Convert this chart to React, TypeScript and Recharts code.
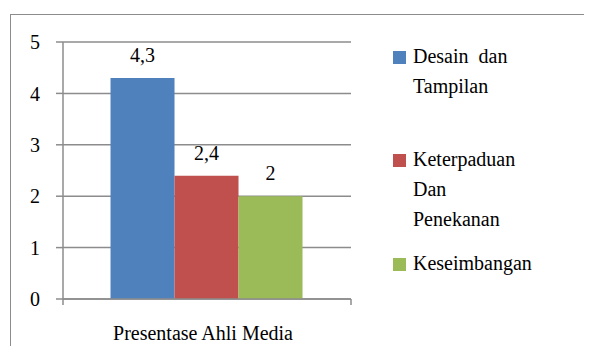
import React from 'react';
import {
  BarChart, Bar, XAxis, YAxis, CartesianGrid, LabelList,
} from 'recharts';

const categories = ['Presentase Ahli Media'];
const seriesKeys = ['desain', 'keterpaduan', 'keseimbangan'];
const seriesNames = ['Desain  dan\nTampilan', 'Keterpaduan\nDan\nPenekanan', 'Keseimbangan'];
const seriesValues = [4.3, 2.4, 2];
const seriesColors = ['#4F81BD', '#C0504D', '#9BBB59'];
const yTicks = [0, 1, 2, 3, 4, 5];

const data = categories.map((name) => {
  const row: any = { name };
  seriesKeys.forEach((k, i) => { row[k] = seriesValues[i]; });
  return row;
});

const font = 'serif';
const gray = '#8c8c8c';

// legend block tops, Excel spreads the items unevenly
const legendTops = [41, 144, 248];

const formatComma = (v: number) => String(v).replace('.', ',');

const CategoryTick = ({ x, y, payload }: any) => {
  const half = payload && payload.offset ? payload.offset : 0;
  return (
    <g>
      <line x1={x - half} x2={x - half} y1={y} y2={y + 6} stroke={gray} strokeWidth={1.5} />
      <line x1={x + half} x2={x + half} y1={y} y2={y + 6} stroke={gray} strokeWidth={1.5} />
      <text x={x - 4} y={y + 41} textAnchor="middle" fontSize={20} fontFamily={font} fill="#000">
        {payload.value}
      </text>
    </g>
  );
};

const LegendBox = () => {
  return (
    <>
      {seriesNames.map((name, i) => {
        return (
          <div
            key={name}
            style={{
              position: 'absolute', left: 393, top: legendTops[i], width: 190,
            }}
          >
            <div
              style={{
                position: 'absolute', left: 0, top: 10, width: 13, height: 13, background: seriesColors[i],
              }}
            />
            <div
              style={{
                marginLeft: 20, fontFamily: font, fontSize: 20, lineHeight: '30px', color: '#000', whiteSpace: 'pre',
              }}
            >
              {name}
            </div>
          </div>
        );
      })}
    </>
  );
};

const App = () => {
  return (
    <div style={{
      position: 'relative', margin: -8, width: 592, height: 354, background: '#fff', overflow: 'hidden', fontFamily: font,
    }}
    >
      <div style={{
        position: 'absolute', left: 10, top: 14, width: 700, height: 500, border: `1.5px solid ${gray}`,
      }}
      />
      <div style={{ position: 'absolute', left: 0, top: 0 }}>
        <BarChart
          width={592}
          height={354}
          data={data}
          margin={{
            top: 42, right: 241, left: 0, bottom: 0,
          }}
          barCategoryGap="16.5%"
          barGap={0}
        >
          <CartesianGrid vertical={false} stroke={gray} strokeWidth={1.5} />
          <XAxis
            dataKey="name"
            height={55}
            stroke={gray}
            strokeWidth={1.5}
            tickLine={false}
            tickSize={0}
            tickMargin={0}
            tick={<CategoryTick />}
            interval={0}
          />
          <YAxis
            width={63}
            domain={[0, 5]}
            ticks={yTicks}
            interval={0}
            stroke={gray}
            strokeWidth={1.5}
            tickSize={7}
            tickMargin={16}
            tick={{ fontSize: 20, fill: '#000', fontFamily: font }}
          />
          {seriesKeys.map((k, i) => {
            return (
              <Bar key={k} dataKey={k} name={seriesNames[i]} fill={seriesColors[i]} isAnimationActive={false}>
                <LabelList
                  dataKey={k}
                  position="top"
                  offset={16}
                  formatter={formatComma}
                  fontSize={20}
                  fontFamily={font}
                  fill="#000"
                />
              </Bar>
            );
          })}
        </BarChart>
      </div>
      <LegendBox />
    </div>
  );
};

export default App;
